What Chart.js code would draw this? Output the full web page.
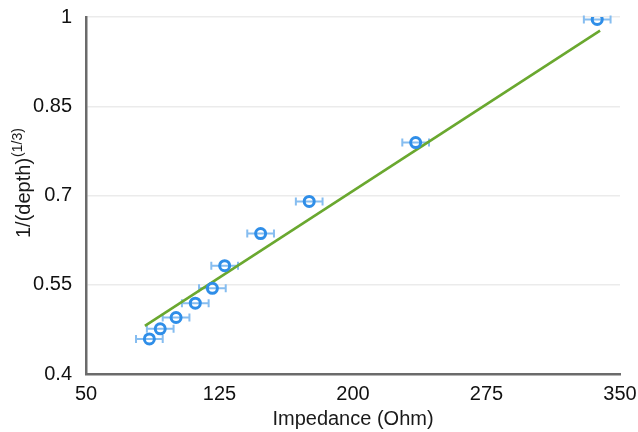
<!DOCTYPE html>
<html>
<head>
<meta charset="utf-8">
<script src="https://cdn.jsdelivr.net/npm/chart.js@4.4.1/dist/chart.umd.min.js"></script>
<style>
  html, body { margin: 0; padding: 0; background: #ffffff; }
  #wrap { width: 638px; height: 432px; }
</style>
</head>
<body>
<div id="wrap"><canvas id="c" width="638" height="432"></canvas></div>
<script>
// ---- data ----
const impedance    = [85.6, 91.7, 100.6, 111.4, 121.0, 127.9, 148.1, 175.4, 235.2, 337.2];
const invDepth     = [0.459, 0.476, 0.495, 0.519, 0.544, 0.582, 0.636, 0.690, 0.789, 0.996];
const impedanceErr = [7.5, 7.5, 7.5, 7.5, 7.5, 7.5, 7.5, 7.5, 7.5, 7.5];
const fitX = [83.1, 338.8];
const fitY = [0.481, 0.977];
const xTicks = [50, 125, 200, 275, 350];
const yTicks = [0.4, 0.55, 0.7, 0.85, 1];
const xTitle = 'Impedance (Ohm)';
const yTitleMain = '1/(depth)';
const yTitleSup = '(1/3)';

const FONT = "'Liberation Sans', Arial, sans-serif";

const errorBars = {
  id: 'errorBars',
  beforeDatasetsDraw(chart) {
    const ctx = chart.ctx, xs = chart.scales.x, ys = chart.scales.y;
    ctx.save();
    ctx.strokeStyle = '#86bdf0';
    ctx.lineWidth = 2;
    impedance.forEach((x, i) => {
      const y = ys.getPixelForValue(invDepth[i]);
      const x0 = xs.getPixelForValue(x - impedanceErr[i]);
      const x1 = xs.getPixelForValue(x + impedanceErr[i]);
      ctx.beginPath();
      ctx.moveTo(x0, y); ctx.lineTo(x1, y);
      ctx.moveTo(x0, y - 4); ctx.lineTo(x0, y + 4);
      ctx.moveTo(x1, y - 4); ctx.lineTo(x1, y + 4);
      ctx.stroke();
    });
    ctx.restore();
  }
};

const yTitlePlugin = {
  id: 'yTitle',
  afterDraw(chart) {
    const ctx = chart.ctx;
    ctx.save();
    ctx.font = '20px ' + FONT;
    const wMain = ctx.measureText(yTitleMain).width;
    ctx.translate(30, 238);
    ctx.rotate(-Math.PI / 2);
    ctx.fillStyle = '#1a1a1a';
    ctx.textAlign = 'left';
    ctx.textBaseline = 'alphabetic';
    ctx.font = '20px ' + FONT;
    ctx.fillText(yTitleMain, 0, 0);
    ctx.font = '14px ' + FONT;
    ctx.fillText(yTitleSup, wMain + 1, -8);
    ctx.restore();
  }
};

new Chart(document.getElementById('c'), {
  type: 'scatter',
  data: {
    datasets: [
      {
        type: 'line',
        data: fitX.map((x, i) => ({ x, y: fitY[i] })),
        borderColor: '#6aa82f',
        borderWidth: 2.6,
        pointRadius: 0,
        fill: false,
        order: 2
      },
      {
        type: 'scatter',
        data: impedance.map((x, i) => ({ x, y: invDepth[i] })),
        pointStyle: 'circle',
        pointRadius: 5,
        borderWidth: 3,
        borderColor: '#2f8ee8',
        backgroundColor: 'rgba(0,0,0,0)',
        order: 1
      }
    ]
  },
  options: {
    responsive: false,
    animation: false,
    devicePixelRatio: 1,
    layout: { padding: { left: 0, right: 18, top: 17, bottom: 0 } },
    plugins: { legend: { display: false }, tooltip: { enabled: false } },
    scales: {
      x: {
        type: 'linear',
        min: 50, max: 350,
        afterBuildTicks: s => { s.ticks = xTicks.map(v => ({ value: v })); },
        afterFit: s => { s.height = 58; s.paddingLeft = 0; s.paddingRight = 0; },
        grid: { display: false, drawTicks: false },
        border: { display: true, color: '#6b6b6b', width: 2.5 },
        ticks: {
          padding: 8,
          color: '#111',
          font: { family: FONT, size: 20 },
          maxRotation: 0,
          callback: v => String(v)
        },
        title: {
          display: true,
          text: xTitle,
          color: '#1a1a1a',
          font: { family: FONT, size: 20 },
          padding: { top: 2, bottom: 1 }
        }
      },
      y: {
        type: 'linear',
        min: 0.4, max: 1,
        afterBuildTicks: s => { s.ticks = yTicks.map(v => ({ value: v })); },
        afterFit: s => { s.width = 86; s.paddingTop = 0; s.paddingBottom = 0; },
        grid: { color: '#ebebeb', lineWidth: 1.5, drawTicks: false },
        border: { display: true, color: '#6b6b6b', width: 2.5 },
        ticks: {
          padding: 14,
          color: '#111',
          font: { family: FONT, size: 20 },
          callback: v => String(+v.toFixed(2))
        }
      }
    }
  },
  plugins: [errorBars, yTitlePlugin]
});
</script>
</body>
</html>
